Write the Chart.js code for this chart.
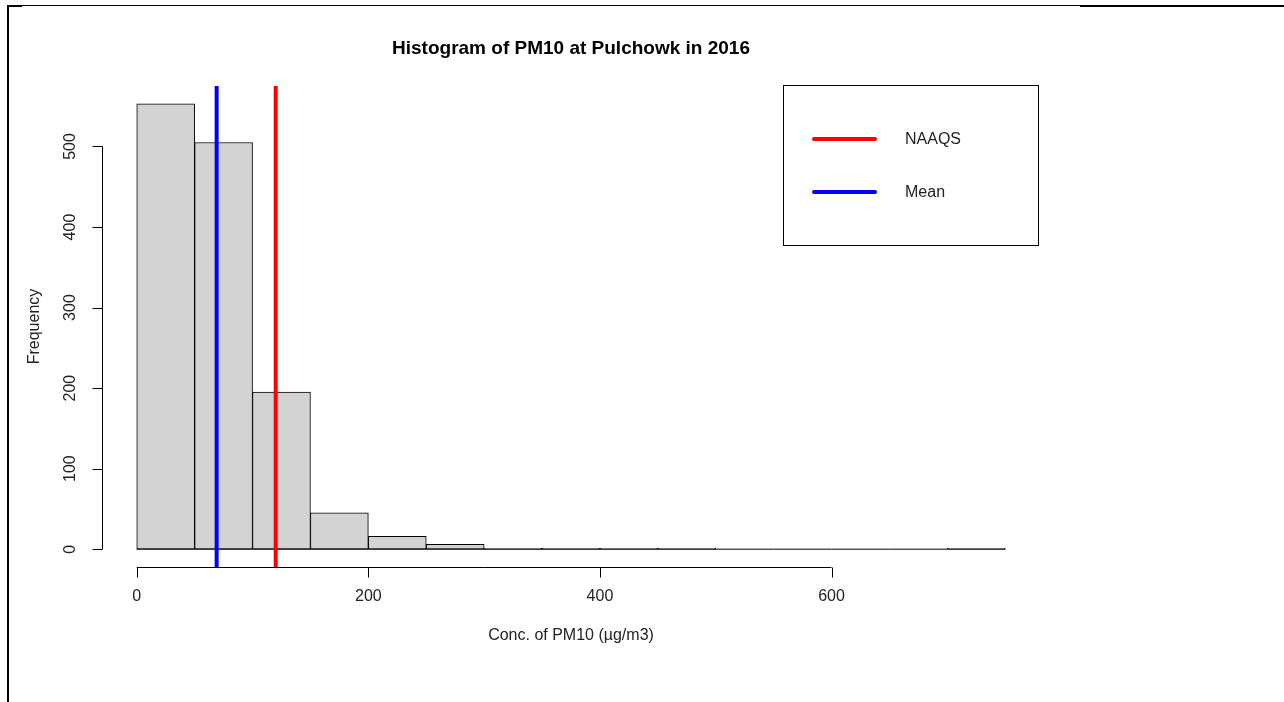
<!DOCTYPE html>
<html>
<head>
<meta charset="utf-8">
<script src="https://cdn.jsdelivr.net/npm/chart.js@4"></script>
<style>
  html, body { margin: 0; padding: 0; background: #fff; }
  canvas { display: block; }
</style>
</head>
<body>
<canvas id="histChart" width="1284" height="702"></canvas>
<script>
// Histogram data (PM10 at Pulchowk, 2016)
const binEdges = [0, 50, 100, 150, 200, 250, 300, 350, 400, 450, 500, 550, 600, 650, 700, 750];
const binCounts = [553, 505, 195, 45, 16, 6, 1, 1, 1, 1, 0, 0, 0, 0, 1];
const meanValue = 69;
const naaqsValue = 120;
const xTicks = [0, 200, 400, 600];
const yTicks = [0, 100, 200, 300, 400, 500];
const titleText = "Histogram of PM10 at Pulchowk in 2016";
const xTitle = "Conc. of PM10 (\u00b5g/m3)";
const yTitle = "Frequency";
const legendLabels = ["NAAQS", "Mean"];
const legendColors = ["#ff0000", "#0000ff"];

// R-style 4% axis extension
const xSpan = binEdges[binEdges.length - 1] - binEdges[0];
const xMin = binEdges[0] - 0.04 * xSpan;
const xMax = binEdges[binEdges.length - 1] + 0.04 * xSpan;
const maxCount = Math.max(...binCounts);
const yMin = -0.04 * maxCount;
const yMax = maxCount * 1.04;

const barPoints = binCounts.map((c, i) => ({ x: (binEdges[i] + binEdges[i + 1]) / 2, y: c }));
const basePoints = binEdges.map(e => ({ x: e, y: 0 }));

const FONT = '"Liberation Sans", Arial, sans-serif';

// Axes, titles, legend and page frame drawn R-style
const rDecor = {
  id: "rDecor",
  afterDatasetsDraw(chart) {
    const ctx = chart.ctx;
    const xs = chart.scales.x;
    const ys = chart.scales.y;
    const area = chart.chartArea;
    ctx.save();

    // page frame
    ctx.fillStyle = "#000";
    ctx.fillRect(8, 5, 1072, 1);
    ctx.fillRect(1080, 5, 204, 2);
    ctx.fillRect(7, 5, 2, 697);
    ctx.fillRect(7, 5, 15, 2);

    // title
    ctx.fillStyle = "#000";
    ctx.font = "bold 19px " + FONT;
    ctx.textAlign = "center";
    ctx.textBaseline = "alphabetic";
    ctx.fillText(titleText, (area.left + area.right) / 2, 54);

    ctx.strokeStyle = "#000";
    ctx.lineWidth = 1;

    // x axis
    const xAxisY = Math.round(area.bottom) + 0.5;
    ctx.beginPath();
    ctx.moveTo(xs.getPixelForValue(xTicks[0]), xAxisY);
    ctx.lineTo(xs.getPixelForValue(xTicks[xTicks.length - 1]), xAxisY);
    xTicks.forEach(t => {
      const px = Math.round(xs.getPixelForValue(t)) + 0.5;
      ctx.moveTo(px, xAxisY);
      ctx.lineTo(px, xAxisY + 10);
    });
    ctx.stroke();
    ctx.font = "16px " + FONT;
    ctx.fillStyle = "#222";
    ctx.textAlign = "center";
    ctx.textBaseline = "middle";
    xTicks.forEach(t => ctx.fillText(String(t), xs.getPixelForValue(t), 597));

    // y axis
    const yAxisX = Math.round(area.left) + 0.5;
    ctx.beginPath();
    ctx.moveTo(yAxisX, ys.getPixelForValue(yTicks[0]));
    ctx.lineTo(yAxisX, ys.getPixelForValue(yTicks[yTicks.length - 1]));
    yTicks.forEach(t => {
      const py = Math.round(ys.getPixelForValue(t)) + 0.5;
      ctx.moveTo(yAxisX, py);
      ctx.lineTo(yAxisX - 10, py);
    });
    ctx.stroke();
    yTicks.forEach(t => {
      ctx.save();
      ctx.translate(71, ys.getPixelForValue(t));
      ctx.rotate(-Math.PI / 2);
      ctx.fillText(String(t), 0, 0);
      ctx.restore();
    });

    // axis titles
    ctx.fillText(xTitle, (area.left + area.right) / 2, 636);
    ctx.save();
    ctx.translate(35, (area.top + area.bottom) / 2);
    ctx.rotate(-Math.PI / 2);
    ctx.fillText(yTitle, 0, 0);
    ctx.restore();

    // legend box
    ctx.strokeStyle = "#000";
    ctx.lineWidth = 1;
    ctx.strokeRect(783.5, 85.5, 255, 160);
    legendLabels.forEach((lab, i) => {
      const ly = 139 + i * 53;
      ctx.strokeStyle = legendColors[i];
      ctx.lineWidth = 4;
      ctx.lineCap = "round";
      ctx.beginPath();
      ctx.moveTo(814, ly);
      ctx.lineTo(875, ly);
      ctx.stroke();
      ctx.fillStyle = "#222";
      ctx.textAlign = "left";
      ctx.fillText(lab, 905, ly + 1);
    });

    ctx.restore();
  }
};

new Chart(document.getElementById("histChart"), {
  type: "bar",
  data: {
    datasets: [
      {
        type: "bar",
        label: "Frequency",
        data: barPoints,
        backgroundColor: "#d3d3d3",
        borderColor: "#000",
        borderWidth: 1,
        borderSkipped: false,
        barPercentage: 1,
        categoryPercentage: 1,
        order: 3
      },
      {
        type: "line",
        label: "base",
        data: basePoints,
        borderColor: "#000",
        borderWidth: 1,
        pointRadius: 0,
        fill: false,
        order: 2
      },
      {
        type: "line",
        label: legendLabels[1],
        data: [{ x: meanValue, y: yMin }, { x: meanValue, y: yMax }],
        borderColor: legendColors[1],
        borderWidth: 4,
        pointRadius: 0,
        fill: false,
        order: 1
      },
      {
        type: "line",
        label: legendLabels[0],
        data: [{ x: naaqsValue, y: yMin }, { x: naaqsValue, y: yMax }],
        borderColor: legendColors[0],
        borderWidth: 4,
        pointRadius: 0,
        fill: false,
        order: 1
      }
    ]
  },
  options: {
    responsive: false,
    animation: false,
    layout: { padding: { left: 102, top: 86, right: 244, bottom: 135 } },
    plugins: { legend: { display: false }, tooltip: { enabled: false }, title: { display: false } },
    scales: {
      x: {
        type: "linear", min: xMin, max: xMax, display: false, offset: false,
        afterBuildTicks: s => { s.ticks = xTicks.map(v => ({ value: v })); }
      },
      y: {
        type: "linear", min: yMin, max: yMax, display: false,
        afterBuildTicks: s => { s.ticks = yTicks.map(v => ({ value: v })); }
      }
    }
  },
  plugins: [rDecor]
});
</script>
</body>
</html>
